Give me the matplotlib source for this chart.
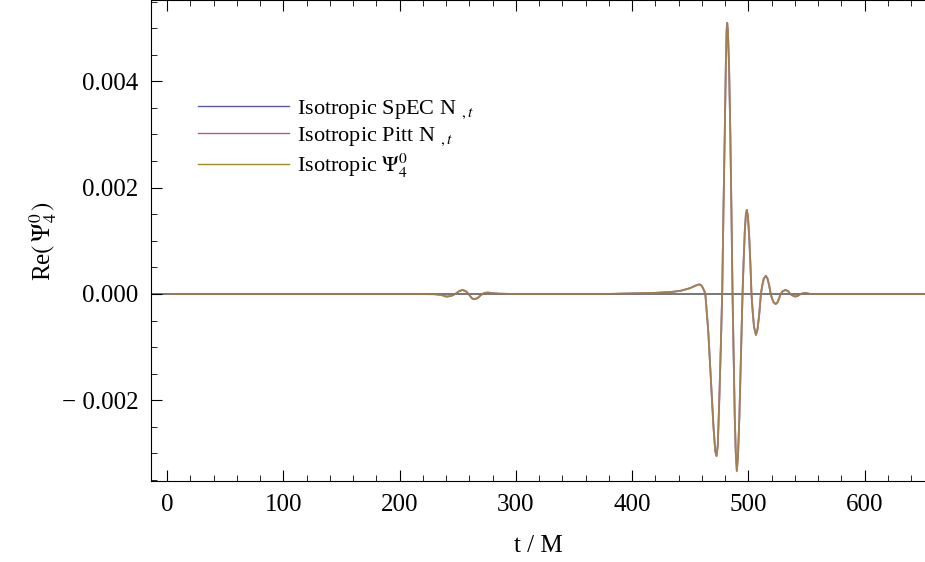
import matplotlib
matplotlib.use("Agg")
import matplotlib.pyplot as plt
from matplotlib.ticker import MultipleLocator

plt.rcParams["font.family"] = ["Liberation Serif", "DejaVu Serif"]
plt.rcParams["mathtext.fontset"] = "stix"

# waveform: time t/M and Re(Psi_4^0) in units of 1e-3
t = [0, 200, 230, 236, 240, 244, 248, 251, 254, 257, 260, 262, 264, 267, 270,
     273, 276, 280, 285, 295, 380, 400, 420, 435, 442, 450, 455, 458, 460, 462,
     463, 465.5, 468, 470, 471.5, 472.6, 473.7, 475, 476.3, 477.5,
     478.6, 479.7, 480.7, 481.3, 481.8, 482.4, 483.4, 484.5, 485.5, 486.4,
     487.3, 488.3, 489.2, 490.1, 491.1, 492.3, 493.6, 495,
     496, 497, 497.9, 498.7, 499.7, 500.8, 501.8, 502.7,
     503.8, 504.9, 506.5, 507.8, 509.3, 510.8,
     512, 513.3, 515, 516.5, 518, 519.2,
     520.5, 521.8, 523.5, 525, 526.5, 527.8,
     529.5, 532, 534.3, 536, 538, 540.5, 543, 545, 549, 553, 560, 652]
re_psi = [0, 0, -0.005, -0.02, -0.05, -0.04, 0.0, 0.05, 0.075, 0.05, -0.02, -0.08, -0.10, -0.08, -0.02,
          0.02, 0.025, 0.015, 0.005, 0, 0, 0.01, 0.02, 0.04, 0.06, 0.11, 0.16, 0.18, 0.15, 0.06,
          0.0, -0.7, -1.7, -2.5, -2.95, -3.05, -2.85, -2.0, -1.0, 0.0,
          1.6, 3.0, 4.4, 4.95, 5.1, 4.95, 4.3, 3.0, 1.5, 0.0,
          -1.1, -2.3, -3.0, -3.33, -3.05, -2.3, -1.2, 0.0,
          0.65, 1.2, 1.5, 1.58, 1.45, 1.05, 0.55, 0.0,
          -0.35, -0.62, -0.77, -0.68, -0.4, 0.0,
          0.16, 0.29, 0.34, 0.29, 0.15, 0.0,
          -0.09, -0.16, -0.19, -0.16, -0.08, 0.0,
          0.05, 0.075, 0.05, 0.0, -0.03, -0.05, -0.03, 0.0, 0.02, 0.0, 0.0, 0.0]

labels = [r"Isotropic SpEC N $_{,t}$", r"Isotropic Pitt N $_{,t}$", r"Isotropic $\Psi_4^0$"]
colors = ["#5a5aa8", "#b45a8c", "#a08a28"]

y = [v * 1e-3 for v in re_psi]

fig = plt.figure(figsize=(9.25, 5.62), dpi=100)
ax = fig.add_axes([0.1632, 0.1441, 0.8368, 0.8559])

ax.axhline(0, color="#606060", lw=1.2, zorder=1)
for lab, c in zip(labels, colors):
    ax.plot(t, y, color=c, lw=1.3, alpha=0.65, label=lab, zorder=2)

ax.set_xlim(-14, 652)
ax.set_ylim(-0.00352, 0.00553)
ax.xaxis.set_major_locator(MultipleLocator(100))
ax.xaxis.set_minor_locator(MultipleLocator(20))
ax.yaxis.set_major_locator(MultipleLocator(0.002))
ax.yaxis.set_minor_locator(MultipleLocator(0.0005))
ax.yaxis.set_major_formatter(lambda v, p: ("\u2212 " if v < -1e-12 else "") + f"{abs(v):.3f}")

ax.spines["right"].set_visible(False)
ax.tick_params(which="both", direction="in", top=True, right=False, labelsize=18, pad=9)
ax.tick_params(which="major", length=8, width=0.8)
ax.tick_params(which="minor", length=4, width=0.6)

ax.set_xlabel("t / M", fontsize=18, labelpad=14)
ax.set_ylabel(r"Re$(\,\Psi_4^0\,)$", fontsize=18, labelpad=2)

leg = ax.legend(loc="upper left", bbox_to_anchor=(0.035, 0.838), frameon=False,
                fontsize=16, handlelength=4.1, handletextpad=0.36, labelspacing=0.2)
for line in leg.get_lines():
    line.set_alpha(1.0)
    line.set_linewidth(1.0)

fig.savefig("out.png", dpi=100)
